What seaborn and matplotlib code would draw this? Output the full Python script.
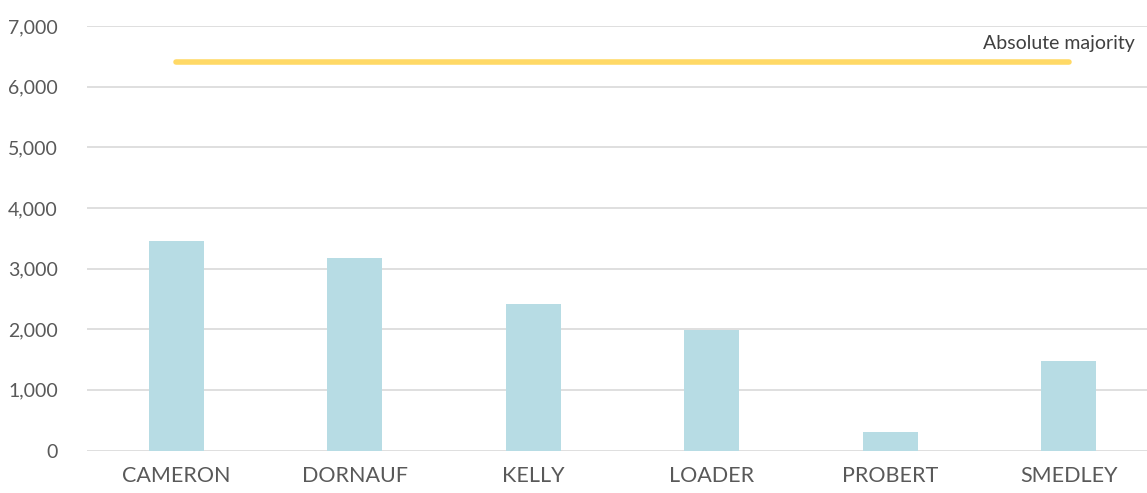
import matplotlib
matplotlib.use("Agg")
import matplotlib.pyplot as plt
import seaborn as sns
import pandas as pd

# candidate votes
candidates = ["CAMERON", "DORNAUF", "KELLY", "LOADER", "PROBERT", "SMEDLEY"]
votes = [3455, 3170, 2415, 1990, 305, 1470]
majority = 6400
y_ticks = [0, 1000, 2000, 3000, 4000, 5000, 6000, 7000]

df = pd.DataFrame({"candidate": candidates, "votes": votes})

sns.set_theme(style="white")
plt.rcParams["font.family"] = ["Lato", "DejaVu Sans"]

fig = plt.figure(figsize=(11.47, 4.93), dpi=100)
# axes right edge runs past the figure, grid is clipped like the original
ax = fig.add_axes([87 / 1147, 42.5 / 493, 1071 / 1147, (450.5 - 26) / 493])

sns.barplot(data=df, x="candidate", y="votes", color="#b7dce4", width=0.31,
            saturation=1, linewidth=0, ax=ax, zorder=3)

# absolute majority line from first to last candidate
ax.plot([0, len(candidates) - 1], [majority, majority], color="#ffd966",
        linewidth=4, solid_capstyle="round", zorder=4)
ax.text(5.37, majority + 170, "Absolute majority", ha="right", va="bottom",
        fontsize=14, color="#404040")

ax.set_xlim(-0.5, 5.5)
ax.set_ylim(0, 7000)
ax.set_yticks(y_ticks)
ax.set_yticklabels([f"{v:,}" for v in y_ticks])
ax.yaxis.grid(True, color="#d9d9d9", linewidth=1.2, zorder=0)
ax.set_axisbelow(True)
ax.set_xlabel("")
ax.set_ylabel("")
for s in ax.spines.values():
    s.set_visible(False)
ax.tick_params(axis="y", length=0, pad=21, labelsize=14, labelcolor="#595959")
ax.tick_params(axis="x", length=0, pad=11, labelsize=15.5, labelcolor="#595959")
for lbl in ax.get_xticklabels():
    lbl.set_fontweight("normal")

fig.savefig("out.png", dpi=100)
